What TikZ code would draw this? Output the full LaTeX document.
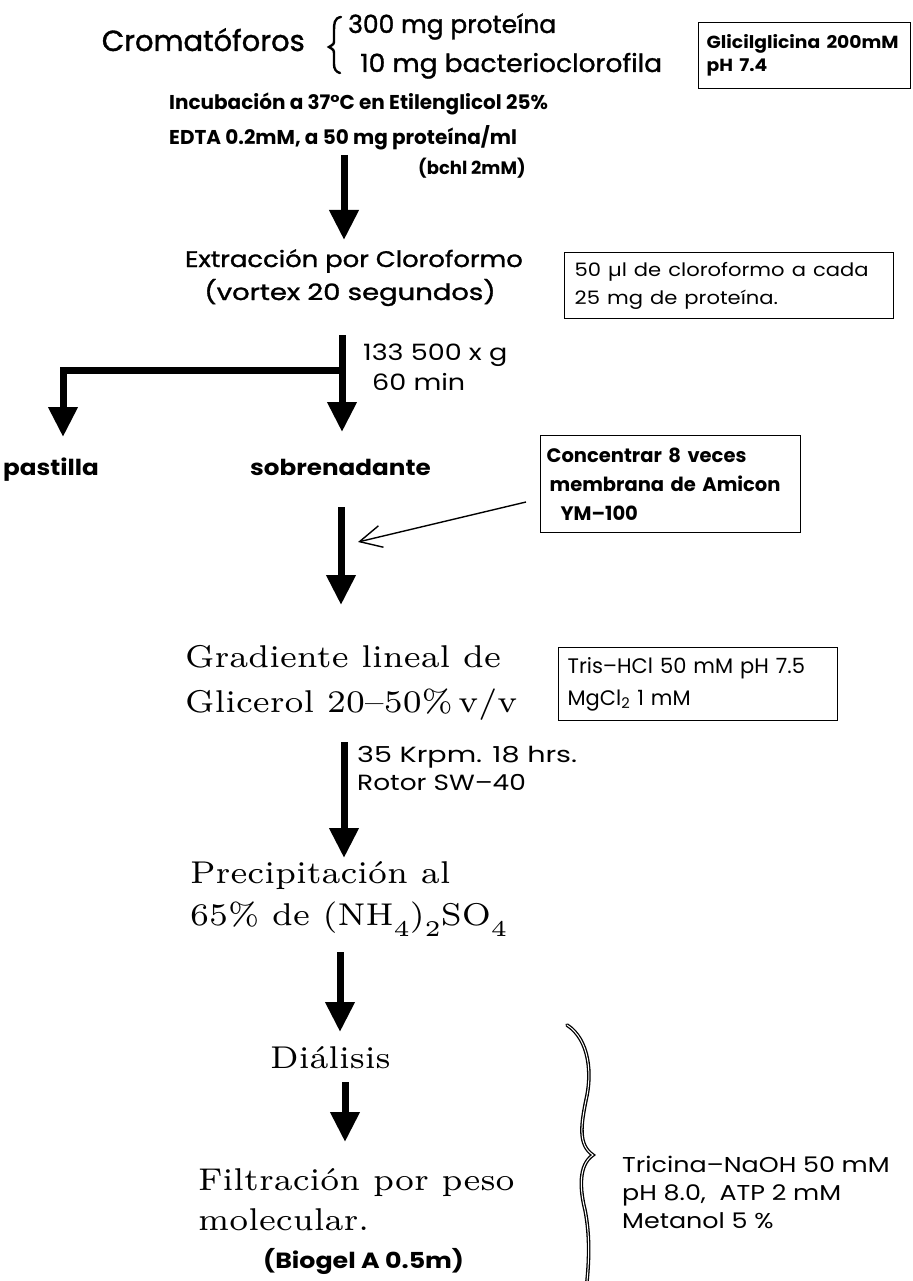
\documentclass[tikz,border=0pt]{standalone}
\usepackage{fontspec}
\usetikzlibrary{arrows.meta}
\newfontfamily\pop{Poppins}[Ligatures=TeX]
\newfontfamily\popm{Poppins}[FakeBold=1.2, Ligatures=TeX]
\newcommand\hs[2]{\scalebox{#1}[1]{#2}}
\newcommand\serif[1]{\scalebox{4.75}[4.5]{\fontsize{7}{8.4}\selectfont #1}}
\newcommand\sbs[1]{\raisebox{-0.85ex}{\fontsize{5}{6}\selectfont #1}}
\tikzset{
  txt/.style={inner sep=0pt, anchor=base west},
  ctxt/.style={inner sep=0pt, anchor=base},
  flow/.style={line width=7pt, -{Triangle[width=28pt,length=30pt]}},
  thinarrow/.style={line width=1.4pt, -{Straight Barb[length=22pt,width=22pt,line width=1.4pt]}},
  note/.style={draw, line width=1.3pt, anchor=north west, align=left, inner ysep=0pt},
  bigbrace/.style={line width=1.3pt, double=white, double distance=1pt, line cap=round},
  smallbrace/.style={line width=2.4pt, line cap=round}
}
\begin{document}
\begin{tikzpicture}[x=1pt,y=-1pt]
\useasboundingbox[fill=white] (0,0) rectangle (912,1281);

% top block
\node[txt, anchor=base east, font=\popm\fontsize{29}{34}\selectfont] (crom) at (305,51) {Cromatóforos};
\draw[smallbrace] (341,17) .. controls (334,18) and (334,24) .. (334,31) -- (334,40) .. controls (334,44) .. (329,47) .. controls (334,50) .. (334,55) -- (334,64) .. controls (334,69) and (336,72) .. (340,73);
\node[txt, font=\popm\fontsize{25}{30}\selectfont] (prot) at (348,33) {300 mg proteína};
\node[txt, font=\popm\fontsize{25}{30}\selectfont] (bchl) at (360,72) {\hs{1.06}{10 mg bacterioclorofila}};
\node[note, inner xsep=8pt, minimum width=212pt, minimum height=66pt, text width=196pt, font=\pop\bfseries\fontsize{17.5}{23}\selectfont] (gly) at (698,22) {\hs{1.07}{Glicilglicina 200mM}\\\hs{1.07}{pH 7.4}};

\node[txt, font=\pop\bfseries\fontsize{20}{24}\selectfont] (inc1) at (169,110) {Incubación a 37°C en Etilenglicol 25\%};
\node[txt, font=\pop\bfseries\fontsize{20}{24}\selectfont] (inc2) at (169,145) {EDTA 0.2mM, a 50 mg proteína/ml};
\node[txt, font=\pop\bfseries\fontsize{18}{22}\selectfont] (inc3) at (418,175) {(bchl 2mM)};

\coordinate (a1s) at (344,155);
\coordinate (a1e) at (344,240);
\draw[flow] (a1s) -- (a1e);

% extraction
\node[ctxt, font=\popm\fontsize{22.5}{27}\selectfont] (ext1) at (354,267) {\hs{1.15}{Extracción por Cloroformo}};
\node[ctxt, font=\popm\fontsize{22.5}{27}\selectfont] (ext2) at (350,300) {\hs{1.22}{(vortex 20 segundos)}};
\node[note, inner xsep=10pt, minimum width=329pt, minimum height=66pt, text width=309pt, font=\pop\fontsize{18.5}{28}\selectfont] (clo) at (564,252) {\hs{1.14}{50 µl de cloroformo a cada}\\\hs{1.14}{25 mg de proteína.}};

% centrifugation branch
\coordinate (b0) at (342,335);
\coordinate (bj) at (342,370);
\coordinate (bl) at (63,370);
\coordinate (b1e) at (342,432);
\coordinate (b2e) at (63,437);
\draw[flow] (b0) -- (b1e);
\draw[flow, line join=miter] (bj) -- (bl) -- (b2e);
\node[txt, font=\pop\fontsize{22.5}{26}\selectfont] (g1) at (363,360) {\hs{1.2}{133 500 x g}};
\node[txt, font=\pop\fontsize{22.5}{26}\selectfont] (g2) at (372,390) {\hs{1.2}{60 min}};

\node[txt, font=\pop\bfseries\fontsize{22}{26}\selectfont] (past) at (3,475) {\hs{1.12}{pastilla}};
\node[txt, font=\pop\bfseries\fontsize{22}{26}\selectfont] (sobr) at (250,475) {\hs{1.12}{sobrenadante}};

\node[note, inner xsep=6pt, minimum width=260pt, minimum height=97pt, text width=248pt, font=\pop\bfseries\fontsize{19.5}{29}\selectfont] (conc) at (540,435) {Concentrar 8 veces\\\hspace*{3pt}membrana de Amicon\\\hspace*{14pt}YM--100};

\coordinate (a3s) at (341,507);
\coordinate (a3e) at (341,605);
\draw[flow] (a3s) -- (a3e);
\coordinate (t1) at (526,502);
\coordinate (t2) at (358,542);
\draw[thinarrow] (t1) -- (t2);

% gradient
\node[txt] (grad1) at (185,667) {\serif{Gradiente lineal de}};
\node[txt] (grad2) at (185,712) {\serif{Glicerol 20--50\%\,v/v}};
\node[note, inner xsep=9pt, minimum width=279pt, minimum height=73pt, text width=261pt, font=\pop\fontsize{21}{32}\selectfont] (tris) at (558,647) {Tris--HCl 50 mM pH 7.5\\MgCl\textsubscript{2} 1 mM};

\coordinate (a4s) at (344,742);
\coordinate (a4e) at (344,858);
\draw[flow] (a4s) -- (a4e);
\node[txt, font=\pop\fontsize{22}{26}\selectfont] (rpm1) at (357,762) {\hs{1.3}{35 Krpm. 18 hrs.}};
\node[txt, font=\pop\fontsize{22}{26}\selectfont] (rpm2) at (357,790) {\hs{1.2}{Rotor SW--40}};

% precipitation
\node[txt] (prec1) at (190,883) {\serif{Precipitación al}};
\node[txt] (prec2) at (190,925) {\serif{65\% de (NH\sbs{4})\sbs{2}SO\sbs{4}}};

\coordinate (a5s) at (340,952);
\coordinate (a5e) at (340,1032);
\draw[flow] (a5s) -- (a5e);
\node[txt] (dial) at (270,1068) {\serif{Diálisis}};
\coordinate (a6s) at (345,1082);
\coordinate (a6e) at (345,1142);
\draw[flow] (a6s) -- (a6e);

\node[txt] (fil1) at (198,1190) {\serif{Filtración por peso}};
\node[txt] (fil2) at (198,1230) {\serif{molecular.}};
\node[txt, font=\pop\bfseries\fontsize{22}{26}\selectfont] (bio) at (263,1268) {\hs{1.15}{(Biogel A 0.5m)}};

% buffer brace
\draw[bigbrace] (567,1025) .. controls (590,1040) and (592,1075) .. (586,1100) .. controls (581,1125) and (578,1145) .. (593,1155) .. controls (578,1165) and (580,1190) .. (585,1210) .. controls (590,1235) and (589,1260) .. (587,1281);
\node[txt, font=\pop\fontsize{21.5}{27}\selectfont] (tri1) at (622,1172) {\hs{1.18}{Tricina--NaOH 50 mM}};
\node[txt, font=\pop\fontsize{21.5}{27}\selectfont] (tri2) at (622,1200) {\hs{1.18}{pH 8.0,\ \ ATP 2 mM}};
\node[txt, font=\pop\fontsize{21.5}{27}\selectfont] (tri3) at (622,1228) {\hs{1.18}{Metanol 5 \%}};
\end{tikzpicture}
\end{document}
